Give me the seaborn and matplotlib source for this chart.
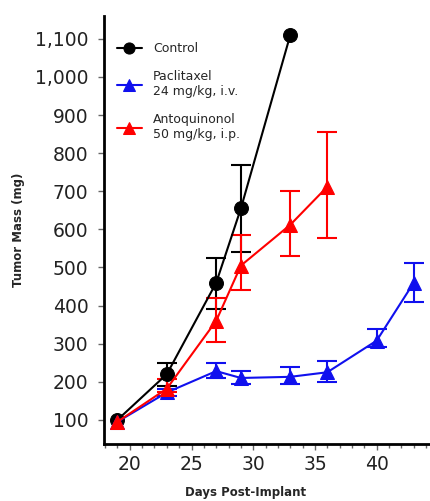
import matplotlib
matplotlib.use("Agg")
import matplotlib.pyplot as plt
import seaborn as sns
import pandas as pd
import numpy as np
from matplotlib.ticker import FuncFormatter, MultipleLocator

# values (nan = no visible error bar)
nan = np.nan
control_days = [19, 23, 27, 29, 33]
control_mass = [100, 220, 460, 655, 1110]
control_lo = [nan, 190, 390, 540, nan]
control_hi = [nan, 250, 525, 770, nan]

pacli_days = [19, 23, 27, 29, 33, 36, 40, 43]
pacli_mass = [95, 172, 228, 210, 213, 225, 308, 460]
pacli_lo = [nan, 162, 210, 195, 193, 200, 290, 410]
pacli_hi = [nan, 182, 248, 228, 240, 255, 338, 512]

anto_days = [19, 23, 27, 29, 33, 36]
anto_mass = [95, 182, 360, 505, 612, 712]
anto_lo = [nan, 172, 305, 440, 530, 578]
anto_hi = [nan, 208, 420, 585, 702, 855]

labels = ["Control", "Paclitaxel\n24 mg/kg, i.v.", "Antoquinonol\n50 mg/kg, i.p."]
colors = ["black", "#1010ee", "#ff0000"]
markers = ["o", "^", "^"]

sns.set_style("ticks")
plt.rcParams["font.family"] = ["DejaVu Sans"]

fig = plt.figure(figsize=(4.31, 5.01), dpi=100)
ax = fig.add_axes([0.241, 0.114, 0.759, 0.854])

series = [
    (control_days, control_mass, control_lo, control_hi),
    (pacli_days, pacli_mass, pacli_lo, pacli_hi),
    (anto_days, anto_mass, anto_lo, anto_hi),
]

for (d, m, lo, hi), lab, c, mk in zip(series, labels, colors, markers):
    df = pd.DataFrame({"day": d, "mass": m, "lo": lo, "hi": hi})
    eb = df.dropna()
    yerr = [eb["mass"] - eb["lo"], eb["hi"] - eb["mass"]]
    ax.errorbar(eb["day"], eb["mass"], yerr=yerr, fmt="none", ecolor=c,
                elinewidth=1.5, capsize=7.5, capthick=1.5, zorder=2)
    sns.lineplot(data=df, x="day", y="mass", ax=ax, color=c, marker=mk,
                 markersize=10, markeredgecolor=c, linewidth=1.5,
                 label=lab, zorder=3)

ax.set_xlim(17.9, 44.4)
ax.set_ylim(37, 1160)
ax.xaxis.set_minor_locator(MultipleLocator(1))
ax.set_xticks([20, 25, 30, 35, 40])
ax.set_yticks(range(100, 1101, 100))
ax.yaxis.set_major_formatter(FuncFormatter(lambda v, p: f"{int(v):,}"))
ax.tick_params(axis="both", labelsize=13.5, labelcolor="#222222", direction="out",
               length=4, width=1, color="#666666")
ax.tick_params(axis="y", pad=7)
ax.tick_params(axis="x", pad=4)
ax.tick_params(axis="x", which="minor", length=3, width=1, color="#666666")

for s in ["top", "right"]:
    ax.spines[s].set_visible(False)
for s in ["left", "bottom"]:
    ax.spines[s].set_linewidth(2)
    ax.spines[s].set_color("black")

ax.set_xlabel("Days Post-Implant", fontsize=8.5, fontweight="bold")
ax.xaxis.set_label_coords(0.434, -0.099)
ax.set_ylabel("Tumor Mass (mg)", fontsize=8.5, fontweight="bold")
ax.yaxis.set_label_coords(-0.24, 0.5)

ax.legend(loc="upper left", bbox_to_anchor=(0.005, 0.965), frameon=False,
          fontsize=9, handlelength=2.0, labelspacing=1.2, markerscale=0.8,
          handletextpad=0.9)

fig.savefig("out.png", dpi=100)
